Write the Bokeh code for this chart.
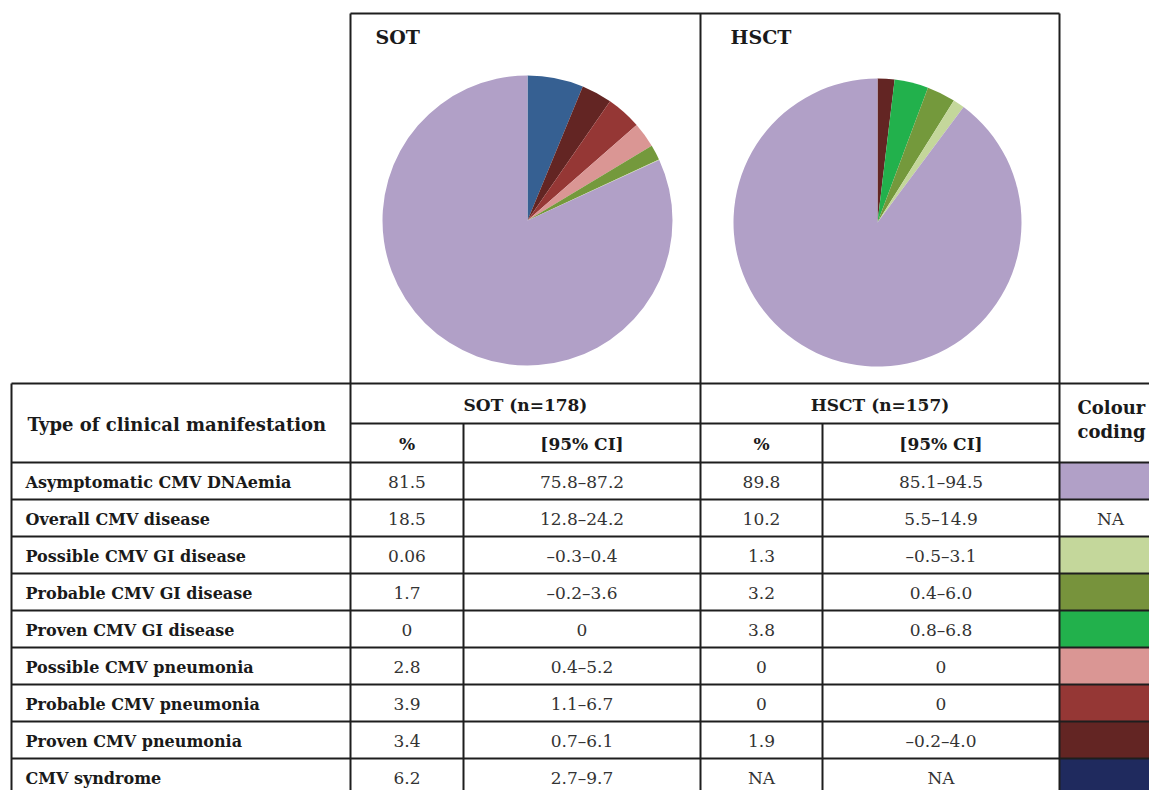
import math
from bokeh.plotting import figure
from bokeh.models import Range1d
from bokeh.core.properties import value
from bokeh.embed import file_html
from bokeh.resources import INLINE

# ---------------- data ----------------
categories = ["Asymptomatic CMV DNAemia", "Overall CMV disease", "Possible CMV GI disease",
              "Probable CMV GI disease", "Proven CMV GI disease", "Possible CMV pneumonia",
              "Probable CMV pneumonia", "Proven CMV pneumonia", "CMV syndrome"]
sot_pct = [81.5, 18.5, 0.06, 1.7, 0, 2.8, 3.9, 3.4, 6.2]
sot_ci = ["75.8–87.2", "12.8–24.2", "–0.3–0.4", "–0.2–3.6", "0", "0.4–5.2", "1.1–6.7", "0.7–6.1", "2.7–9.7"]
hsct_pct = [89.8, 10.2, 1.3, 3.2, 3.8, 0, 0, 1.9, None]
hsct_ci = ["85.1–94.5", "5.5–14.9", "–0.5–3.1", "0.4–6.0", "0.8–6.8", "0", "0", "–0.2–4.0", "NA"]
table_colours = ["#b1a0c7", None, "#c4d79b", "#77933c", "#22b14c", "#da9694", "#953735", "#632523", "#1f2a5e"]
pie_colours = ["#b1a0c7", None, "#c4d79b", "#74993c", "#22b14c", "#da9694", "#953735", "#632523", "#366092"]
pie_order = [8, 7, 6, 5, 4, 3, 2, 0]   # clockwise from 12 o'clock; "Overall" is an aggregate
group_titles = ["SOT", "HSCT"]
group_headers = ["SOT (n=178)", "HSCT (n=157)"]

# ---------------- figure (data coords = page pixels, y flipped) ----------------
W, H = 1149, 790
p = figure(width=W, height=H, output_backend="svg", toolbar_location=None,
           x_range=Range1d(0, W), y_range=Range1d(0, H),
           x_axis_type=None, y_axis_type=None, min_border=0)
p.outline_line_color = None
p.grid.visible = False
p.background_fill_color = "white"

def Y(y):
    return H - y

SERIF = value("DejaVu Serif")
LINE = "#1e1e1e"
TXT = "#1a1a1a"
NUM = "#333333"

# columns
X0, X1, X2, X3, X4, X5, X6 = 11, 350, 463, 700, 822, 1059, 1161
TOP, HT, HM, HB = 13, 383, 423, 462
ROW_H = 37
n = len(categories)

# ---------------- colour coding cells ----------------
for i, c in enumerate(table_colours):
    if c is None:
        continue
    y0 = HB + ROW_H * i
    p.quad(left=X5, right=X6, top=Y(y0), bottom=Y(y0 + ROW_H), fill_color=c, line_color=None)

# ---------------- pies ----------------
def pie(cx, cy, r, vals):
    total = sum(vals[k] for k in pie_order if vals[k])
    cum = 0.0
    xs, ys, st, en, cols = [], [], [], [], []
    for k in pie_order:
        v = vals[k]
        if not v:
            continue
        a0 = math.pi / 2 - 2 * math.pi * cum / total
        cum += v
        a1 = math.pi / 2 - 2 * math.pi * cum / total
        xs.append(cx); ys.append(Y(cy)); st.append(a0); en.append(a1); cols.append(pie_colours[k])
    p.wedge(x=xs, y=ys, radius=r, radius_units="screen", start_angle=st, end_angle=en,
            direction="clock", fill_color=cols, line_color=None)

pie(527, 220, 145, sot_pct)
pie(877, 222, 144, hsct_pct)

# ---------------- grid lines ----------------
def hline(y, xa, xb):
    p.segment(x0=[xa], y0=[Y(y)], x1=[xb], y1=[Y(y)], line_color=LINE, line_width=2)
def vline(x, ya, yb):
    p.segment(x0=[x], y0=[Y(ya)], x1=[x], y1=[Y(yb)], line_color=LINE, line_width=2)

BOTTOM = HB + ROW_H * n
hline(TOP, X1, X5)
hline(HT, X0, X6)
hline(HM, X1, X5)
for i in range(n):
    hline(HB + ROW_H * i, X0, X6)
hline(BOTTOM, X0, X6)
vline(X0, HT, BOTTOM)
vline(X1, TOP, BOTTOM)
vline(X2, HM, BOTTOM)
vline(X3, TOP, BOTTOM)
vline(X4, HM, BOTTOM)
vline(X5, TOP, BOTTOM)

# ---------------- texts ----------------
def txt(x, y, s, size, bold=True, align="center", color=TXT):
    p.text(x=[x], y=[Y(y)], text=[s], text_font=SERIF, text_font_size=size,
           text_font_style="bold" if bold else "normal", text_align=align,
           text_baseline="middle", text_color=color)

txt(375, 36, group_titles[0], "19px", align="left")
txt(730, 36, group_titles[1], "19px", align="left")

txt(27, 424, "Type of clinical manifestation", "18px", align="left")
txt((X1 + X3) / 2, 404, group_headers[0], "17px")
txt((X3 + X5) / 2, 404, group_headers[1], "17px")
txt(1077, 407, "Colour", "18px", align="left")
txt(1077, 431, "coding", "18px", align="left")
for xa, xb, s in [(X1, X2, "%"), (X2, X3, "[95% CI]"), (X3, X4, "%"), (X4, X5, "[95% CI]")]:
    txt((xa + xb) / 2, 443, s, "17px")

def fmt(v):
    return "NA" if v is None else str(v)

for i in range(n):
    yc = HB + ROW_H * i + ROW_H / 2 + 1
    txt(25, yc, categories[i], "16px", align="left")
    txt((X1 + X2) / 2, yc, fmt(sot_pct[i]), "17px", bold=False, color=NUM)
    txt((X2 + X3) / 2, yc, sot_ci[i], "17px", bold=False, color=NUM)
    txt((X3 + X4) / 2, yc, fmt(hsct_pct[i]), "17px", bold=False, color=NUM)
    txt((X4 + X5) / 2, yc, hsct_ci[i], "17px", bold=False, color=NUM)
    if table_colours[i] is None:
        txt(1110, yc, "NA", "17px", bold=False, color=NUM)

open("out.html", "w").write(file_html(p, INLINE))
